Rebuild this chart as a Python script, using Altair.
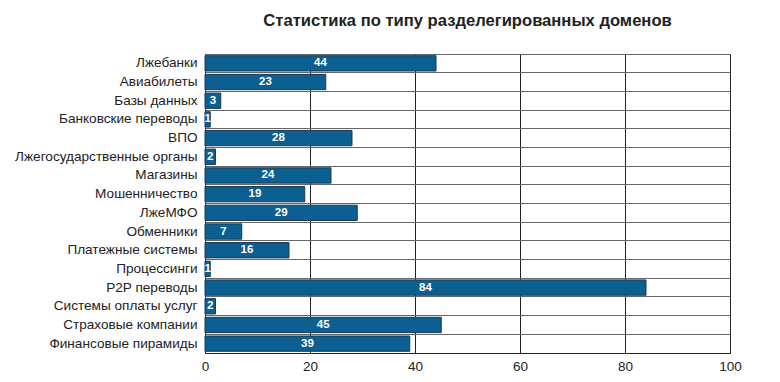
import altair as alt
import pandas as pd

categories = ["Лжебанки", "Авиабилеты", "Базы данных", "Банковские переводы", "ВПО",
              "Лжегосударственные органы", "Магазины", "Мошенничество", "ЛжеМФО",
              "Обменники", "Платежные системы", "Процессинги", "P2P переводы",
              "Системы оплаты услуг", "Страховые компании", "Финансовые пирамиды"]
values = [44, 23, 3, 1, 28, 2, 24, 19, 29, 7, 16, 1, 84, 2, 45, 39]
x_ticks = [0, 20, 40, 60, 80, 100]

df = pd.DataFrame({"cat": categories, "val": values})
df["mid"] = df["val"] / 2

FONT = "Liberation Sans"

y_enc = alt.Y("cat:N", sort=categories, title=None,
              scale=alt.Scale(paddingInner=0, paddingOuter=0),
              axis=alt.Axis(grid=True, bandPosition=0, gridColor="#666", gridWidth=1,
                            ticks=False, domain=False, labelFont=FONT, labelFontSize=13.6,
                            labelColor="#222", labelPadding=8, labelLimit=400))
x_scale = alt.Scale(domain=[0, 100], nice=False)

bars = alt.Chart(df).mark_bar(
    height=alt.RelativeBandSize(band=0.82), color="#0b5f91",
    stroke="#1d3b52", strokeWidth=1
).encode(
    x=alt.X("val:Q", scale=x_scale, title=None,
            axis=alt.Axis(values=x_ticks, grid=True, gridColor="#222", gridWidth=1,
                          ticks=False, domain=True, domainColor="#222",
                          labelFont=FONT, labelFontSize=13.5, labelColor="#222",
                          labelPadding=6, labelFlush=False)),
    y=y_enc,
)

labels = alt.Chart(df).mark_text(
    color="white", font=FONT, fontSize=11.5, fontWeight="bold", baseline="middle"
).encode(
    x=alt.X("mid:Q", scale=x_scale),
    y=alt.Y("cat:N", sort=categories),
    text=alt.Text("val:Q"),
)

chart = (bars + labels).properties(
    width=525, height=299,
    title=alt.TitleParams("Статистика по типу разделегированных доменов",
                          font=FONT, fontSize=16.6, fontWeight="bold", color="#222",
                          anchor="middle", offset=24),
    autosize=alt.AutoSizeParams(type="none"),
    padding={"left": 197, "top": 46, "right": 42, "bottom": 21},
).configure_view(stroke="#333", strokeWidth=1)

chart.save("out.html", embed_options={"renderer": "svg", "actions": False})
